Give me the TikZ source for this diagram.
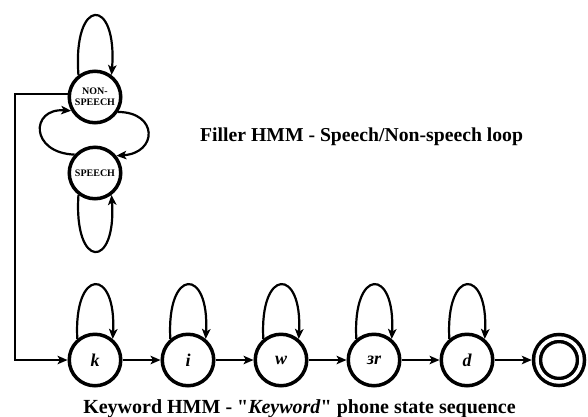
\documentclass[tikz,border=0pt]{standalone}
\usepackage{fontspec}
\setmainfont{Liberation Serif}[Ligatures=TeXOff]
\usetikzlibrary{arrows.meta,calc}
\begin{document}
\begin{tikzpicture}[x=1pt,y=-1pt,
  state/.style={circle,draw,line width=3.5pt,minimum size=51.5pt,inner sep=0pt,
    font=\bfseries\itshape\fontsize{18}{18}\selectfont},
  fstate/.style={circle,draw,line width=3.5pt,minimum size=51.5pt,inner sep=0pt,align=center,
    font=\bfseries\fontsize{10}{11}\selectfont},
  final/.style={circle,draw,line width=3.5pt,double,double distance=3.5pt,minimum size=44pt,
    inner sep=0pt,outer sep=5.25pt},
  conn/.style={line width=2.2pt,-{Stealth[length=10pt,width=8.5pt,inset=2.5pt]}},
  caption/.style={inner sep=0pt,font=\bfseries\fontsize{19.7}{20}\selectfont}
]
\useasboundingbox (0,0) rectangle (588,416);

% Filler HMM
\node[fstate] (ns) at (95,97) {NON-\\SPEECH};
\node[fstate] (sp) at (95,173) {SPEECH};
\draw[conn] (ns.127) .. controls +(-6,-79) and +(6,-79) .. (ns.53);
\draw[conn] (sp.233) .. controls +(-5,75) and +(5,75) .. (sp.307);
\draw[conn] (sp.138) .. controls (30,153) and (30,108) .. (ns.210);
\draw[conn] (ns.327) .. controls (158,112) and (158,153) .. (sp.39);

% Keyword HMM
\node[state] (k) at (95,360) {k};
\node[state] (i) at (188,360) {i};
\node[state] (w) at (281,360) {w};
\node[state] (er) at (374,360) {ɜr};
\node[state] (d) at (467,360) {d};
\node[final] (end) at (559,360) {};

\foreach \n in {k,i,w,er,d}{
  \draw[conn] (\n.130) .. controls +(-4,-72) and +(4,-72) .. (\n.50);
}
\draw[conn] (k) -- (i);
\draw[conn] (i) -- (w);
\draw[conn] (w) -- (er);
\draw[conn] (er) -- (d);
\draw[conn] (d) -- (end);

\coordinate (lc) at (15,360);
\draw[conn] (ns.174) -| (lc) -- (k.west);

\node[caption,anchor=base west] (filler) at (200,141.5) {Filler HMM - Speech/Non-speech loop};
\node[caption,anchor=base,font=\bfseries\fontsize{20}{20}\selectfont] (kw) at (299.5,413) {Keyword HMM - "\textit{Keyword}" phone state sequence};
\end{tikzpicture}
\end{document}
